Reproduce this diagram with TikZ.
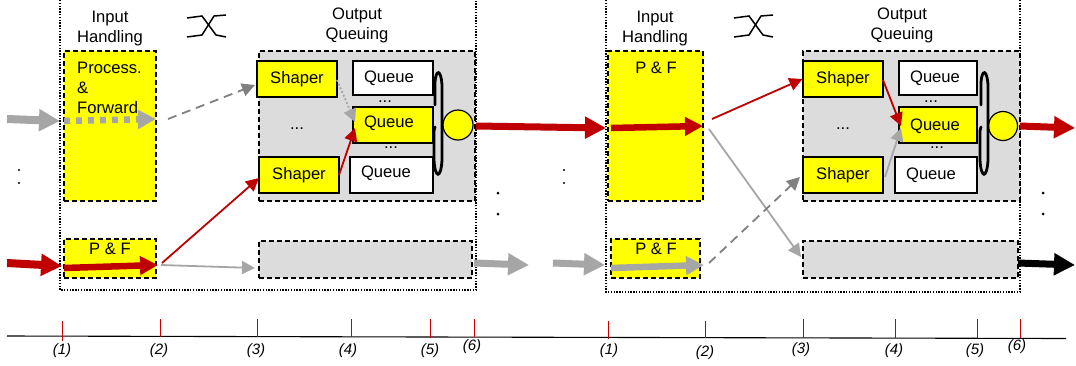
\documentclass[tikz,border=0pt]{standalone}
\usepackage{fontspec}
\setmainfont{Liberation Sans}
\usetikzlibrary{arrows.meta}
\definecolor{darkred}{HTML}{C00000}
\definecolor{flowgray}{HTML}{A6A6A6}
\definecolor{dashgray}{HTML}{808080}
\definecolor{boxgray}{HTML}{DCDCDC}
\definecolor{boxyellow}{rgb}{1,1,0}
\tikzset{
  txt/.style={inner sep=0pt, font=\fontsize{16.6}{20}\selectfont, align=center},
  smalltxt/.style={inner sep=0pt, font=\fontsize{15}{17}\selectfont\itshape},
  frame/.style={line width=1.4pt, dash pattern=on 1.4pt off 1.4pt},
  inbox/.style={draw, fill=boxyellow, line width=1.3pt, dash pattern=on 5pt off 3pt, inner sep=0pt},
  outbox/.style={draw, fill=boxgray, line width=1.3pt, dash pattern=on 5pt off 3pt, inner sep=0pt},
  shaperbox/.style={draw, fill=boxyellow, line width=1.2pt, inner sep=0pt, minimum width=80pt, minimum height=36pt, font=\fontsize{16.6}{20}\selectfont},
  queuebox/.style={draw, fill=white, line width=1.2pt, inner sep=0pt, font=\fontsize{16.6}{20}\selectfont},
  sched/.style={circle, draw, fill=boxyellow, line width=1.2pt, inner sep=0pt, minimum size=30pt},
  fatarrow/.style={line width=8pt, -{Triangle[length=21pt,width=21pt]}},
  midarrow/.style={line width=6.5pt, -{Triangle[length=18pt,width=18pt]}},
  thinarrow/.style={line width=1.8pt, -{Triangle[length=13pt,width=13pt]}},
}
\begin{document}
\begin{tikzpicture}[x=1pt,y=-1pt]
  \useasboundingbox (0,0) rectangle (1076,365);

  % Dotted frames of the two switches
  \draw[frame] (60,0) -- (60,290) -- (476,290) -- (476,0);
  \draw[frame] (606,0) -- (606,292) -- (1020,292) -- (1020,0);

  % Headings
  \node[txt] (inhead1) at (110,28.5) {Input\\Handling};
  \node[txt] (outhead1) at (357,25.5) {Output\\Queuing};
  \node[txt] (inhead2) at (655,28.5) {Input\\Handling};
  \node[txt] (outhead2) at (902,25.5) {Output\\Queuing};

  % Switch symbols
  \foreach \sx in {187,734} {
    \draw[line width=1.5pt] (\sx,18) -- ({\sx+15},16) -- ({\sx+29},35) -- ({\sx+39},37);
    \draw[line width=1.5pt] (\sx,37) -- ({\sx+15},35) -- ({\sx+27},16) -- ({\sx+39},15);
  }

  % First switch, input side
  \node[inbox, minimum width=92pt, minimum height=150pt] (proc1) at (110,126) {};
  \node[txt, align=left, anchor=north west] (proctxt) at (77,62) {Process.\\\&\\Forward};
  \node[inbox, minimum width=92pt, minimum height=39pt] (pf1) at (110,258.5) {};
  \node[txt] (pftxt1) at (110,249) {P \& F};

  % First switch, output side
  \node[outbox, minimum width=216pt, minimum height=150pt] (oq1) at (367,126) {};
  \node[outbox, minimum width=213pt, minimum height=37pt] (oqb1) at (365.5,259.5) {};
  \node[shaperbox] (sha1) at (297,79) {Shaper};
  \node[shaperbox] (shb1) at (299,175) {Shaper};
  \node[queuebox, minimum width=80pt, minimum height=34pt, label={[txt, xshift=-4pt]center:Queue}] (qa1) at (393,78) {};
  \node[queuebox, fill=boxyellow, minimum width=80pt, minimum height=36pt, label={[txt, xshift=-4pt, yshift=2pt]center:Queue}] (qb1) at (393,125) {};
  \node[queuebox, minimum width=83pt, minimum height=36pt, label={[txt, xshift=-5.5pt, yshift=2pt]center:Queue}] (qc1) at (391.5,175) {};
  \node[sched] (sc1) at (458,125) {};

  % Second switch, input side
  \node[inbox, minimum width=95pt, minimum height=150pt] (pfa2) at (655.5,126) {};
  \node[txt] (pftxt2) at (656,68) {P \& F};
  \node[inbox, minimum width=89pt, minimum height=39pt] (pfb2) at (655.5,258.5) {};
  \node[txt] (pftxt3) at (656,249) {P \& F};

  % Second switch, output side
  \node[outbox, minimum width=217pt, minimum height=150pt] (oq2) at (911.5,126) {};
  \node[outbox, minimum width=215pt, minimum height=37pt] (oqb2) at (910.5,259.5) {};
  \node[shaperbox] (sha2) at (843,79) {Shaper};
  \node[shaperbox] (shb2) at (843,175) {Shaper};
  \node[queuebox, minimum width=78pt, minimum height=34pt, label={[txt, xshift=-3pt]center:Queue}] (qa2) at (938,78) {};
  \node[queuebox, fill=boxyellow, minimum width=78pt, minimum height=36pt, label={[txt, xshift=-3pt, yshift=-1pt]center:Queue}] (qb2) at (938,125) {};
  \node[queuebox, minimum width=82pt, minimum height=36pt, label={[txt, xshift=-5pt]center:Queue}] (qc2) at (936,175) {};
  \node[sched, minimum size=29pt] (sc2) at (1003,126) {};

  % Round robin loops
  \foreach \lx in {434,980} {
    \draw[line width=2.8pt, line cap=round] ({\lx+1},105) -- ({\lx+1},82)
      .. controls ({\lx+2},69) and ({\lx+7},69) .. ({\lx+8},85) -- ({\lx+8},160)
      .. controls ({\lx+7},179) and ({\lx+1},179) .. (\lx,160) -- (\lx,135)
      .. controls (\lx,130) .. ({\lx+1},127);
  }

  % Free ends of the arrows
  \coordinate (ina) at (7,119);
  \coordinate (inb) at (7,263);
  \coordinate (fra) at (60,121);
  \coordinate (frb) at (62,266);
  \coordinate (ina1) at (64,121);
  \coordinate (ina2) at (156,119);
  \coordinate (inb1) at (64,268);
  \coordinate (inb2) at (158,265);
  \coordinate (cena) at (168,119);
  \coordinate (cenb) at (162,263);
  \coordinate (cenc) at (161,265);
  \coordinate (shain) at (255,85);
  \coordinate (shbin) at (259,178);
  \coordinate (oqbin) at (255,268);
  \coordinate (shaout) at (337,80);
  \coordinate (shbout) at (339,175);
  \coordinate (qbina) at (355,122);
  \coordinate (qbinb) at (355,128);
  \coordinate (out1) at (476,126);
  \coordinate (in2) at (606,128);
  \coordinate (outb1) at (474,263);
  \coordinate (outb2) at (529,265);
  \coordinate (inc1) at (553,263);
  \coordinate (inc2) at (605,265);
  \coordinate (pa1) at (611,128);
  \coordinate (pa2) at (703,126);
  \coordinate (pb1) at (611,268);
  \coordinate (pb2) at (704,265);
  \coordinate (cend) at (712,119);
  \coordinate (cene) at (709,129);
  \coordinate (cenf) at (709,263);
  \coordinate (endd) at (801,257);
  \coordinate (ende) at (800,177);
  \coordinate (shcout) at (883,80);
  \coordinate (shdout) at (885,177);
  \coordinate (qdina) at (901,126);
  \coordinate (qdinb) at (901,128);
  \coordinate (out2) at (1020,126);
  \coordinate (out3) at (1075,128);
  \coordinate (out4) at (1018,263);
  \coordinate (out5) at (1075,265);

  % Flows through the first switch
  \draw[fatarrow, flowgray] (ina) -- (fra);
  \draw[fatarrow, darkred] (inb) -- (frb);
  \draw[midarrow, flowgray, dash pattern=on 6pt off 6pt] (ina1) -- (ina2);
  \draw[midarrow, darkred] (inb1) -- (inb2);
  \draw[thinarrow, dashgray, dash pattern=on 9pt off 6pt] (cena) -- (shain);
  \draw[thinarrow, darkred] (cenb) -- (shbin);
  \draw[thinarrow, flowgray] (cenc) -- (oqbin);
  \draw[thinarrow, flowgray, dash pattern=on 2pt off 2pt] (shaout) -- (qbina);
  \draw[thinarrow, darkred] (shbout) -- (qbinb);

  % Flows between the switches
  \draw[fatarrow, line width=7pt, darkred] (out1) -- (in2);
  \draw[fatarrow, line width=7pt, flowgray] (outb1) -- (outb2);
  \draw[fatarrow, line width=7pt, flowgray] (inc1) -- (inc2);

  % Flows through the second switch
  \draw[midarrow, darkred] (pa1) -- (pa2);
  \draw[midarrow, flowgray] (pb1) -- (pb2);
  \draw[thinarrow, darkred] (cend) -- (sha2.west);
  \draw[thinarrow, flowgray] (cene) -- (endd);
  \draw[thinarrow, dashgray, dash pattern=on 9pt off 6pt] (cenf) -- (ende);
  \draw[thinarrow, darkred] (shcout) -- (qdina);
  \draw[thinarrow, flowgray] (shdout) -- (qdinb);
  \draw[fatarrow, line width=7pt, darkred] (out2) -- (out3);
  \draw[fatarrow, line width=7pt, black] (out4) -- (out5);

  % Ellipses
  \node[txt] (dotsa) at (385,102) {...};
  \node[txt] (dotsb) at (391,148) {...};
  \node[txt] (dotsc) at (297,129) {...};
  \node[txt] (dotsd) at (931,102) {...};
  \node[txt] (dotse) at (937,148) {...};
  \node[txt] (dotsf) at (843,129) {...};
  \foreach \dx/\ya/\yb/\dsize in {19/170/183/1.1, 564/170/183/1.1, 498/193/214/1.5, 1043/193/214/1.5} {
    \fill (\dx,\ya) circle (\dsize pt);
    \fill (\dx,\yb) circle (\dsize pt);
  }

  % Time axis
  \coordinate (axisl) at (7,336);
  \coordinate (axisr) at (1066,338.5);
  \draw[line width=1.1pt] (axisl) -- (axisr);
  \foreach \tx/\ta/\tb/\tlab/\lx/\ly in {
      62/321/341/1/62/351, 160/319/337/2/159/351, 257/319/337/3/256/351, 351/319/337/4/348/351,
      430/319/338/5/430/351, 474/319/337/6/472/347, 608/321/339/1/609/351, 705/321/338/2/705/353,
      803/319/338/3/801/350, 895/319/338/4/894/351, 977/319/338/5/975/351, 1020/319/338/6/1017/347} {
    \draw[red!80!black] (\tx,\ta) -- (\tx,\tb);
    \node[smalltxt] (t\tx) at (\lx,\ly) {(\tlab)};
  }
\end{tikzpicture}
\end{document}
